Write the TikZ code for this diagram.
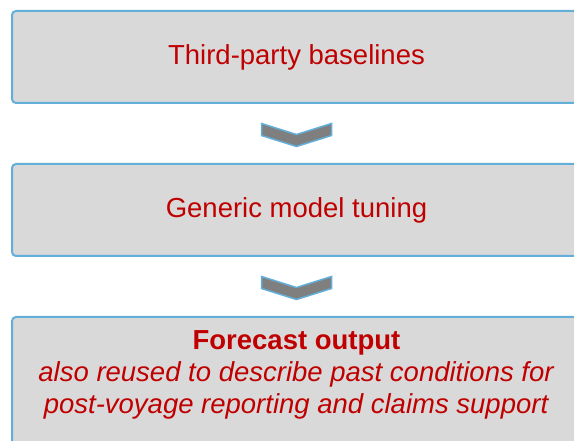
\documentclass[tikz,border=0pt]{standalone}
\usepackage{fontspec}
\setmainfont{Liberation Sans}
\usepackage{tikz}
\usetikzlibrary{
        calc,
        positioning
    }
\definecolor{boxfill}{HTML}{D9D9D9}
\definecolor{boxline}{HTML}{62AFDA}
\definecolor{boxtext}{HTML}{C00000}
\definecolor{chevfill}{HTML}{7F7F7F}
\tikzset{
    stage/.style={draw=boxline, line width=2pt, fill=boxfill, rounded corners=4pt,
        minimum width=569pt, minimum height=92pt, text=boxtext, align=center,
        font=\fontsize{27.5}{32}\selectfont},
    stagetext/.style={text=boxtext, align=center, inner sep=0pt,
        font=\fontsize{27.5}{32}\selectfont},
    chev/.style={draw=boxline, line width=1.5pt, fill=chevfill, line join=miter}
}
\newcommand{\chevron}[1]{%
    \draw[chev] ($#1+(-35,10)$) -- ($#1+(0,-1)$) -- ($#1+(35,10)$)
        -- ($#1+(35,-2)$) -- ($#1+(0,-13)$) -- ($#1+(-35,-2)$) -- cycle;}

\begin{document}
\begin{tikzpicture}[x=1pt,y=1pt]
    \useasboundingbox (0,0) rectangle (574,440);
    \begin{scope}
        \clip (0,0) rectangle (574,440);
        \node[stage] (base) at (296.5,383) {Third-party baselines};
        \node[stage] (tune) [below=59pt of base] {Generic model tuning};
        \node[stage, minimum height=140pt] (fcst) [below=59pt of tune] {};
        \node[stagetext, anchor=north] (fcsttext) at ($(fcst.north)+(0,-14)$) {%
            \textbf{Forecast output}\\
            \textit{also reused to describe past conditions for}\\
            \textit{post-voyage reporting and claims support}};
        % chevrons between the stages
        \coordinate (c1) at ($(base.south)!0.5!(tune.north)$);
        \coordinate (c2) at ($(tune.south)!0.5!(fcst.north)$);
        \chevron{(c1)}
        \chevron{(c2)}
    \end{scope}
\end{tikzpicture}
\end{document}
